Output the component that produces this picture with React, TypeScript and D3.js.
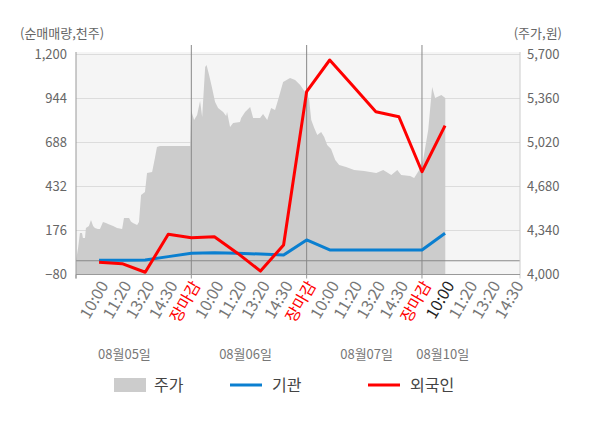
import React from "react";
import * as d3 from "d3";

const xLabels = ["", "10:00", "11:20", "13:20", "14:30", "장마감", "10:00", "11:20", "13:20", "14:30", "장마감", "10:00", "11:20", "13:20", "14:30", "장마감", "10:00", "11:20", "13:20", "14:30"];
const dateLabels = ["08월05일", "08월06일", "08월07일", "08월10일"];
const dateSlots = [2.1, 7.35, 12.6, 15.9];
const leftTicks = [-80, 176, 432, 688, 944, 1200];
const rightTicks = [4000, 4340, 4680, 5020, 5360, 5700];

const foreign = [null, -9, -17, -67, 154, 134, 140, 44, -60, 92, 984, 1168, 1018, 867, 838, 518, 786];
const inst = [null, 3, 3, 5, 24, 43, 47, 43, 39, 33, 121, 63, 63, 63, 63, 63, 160];

const priceSlot = [
  0.0, 0.04, 0.09, 0.17, 0.26, 0.3, 0.39, 0.43, 0.56, 0.65, 0.74, 0.82, 0.95, 1.04, 1.17, 1.3, 1.39, 1.61, 1.78, 2.0, 2.08, 2.3, 2.38, 2.47, 2.65, 2.73, 2.82, 2.99, 3.08, 3.3, 3.43, 3.51, 3.64, 4.95,
  4.99, 5.12, 5.25, 5.38, 5.47, 5.6, 5.66, 5.77, 5.9, 6.03, 6.16, 6.38, 6.51, 6.55, 6.68, 6.81, 7.11, 7.16, 7.33, 7.55, 7.68, 7.98, 8.11, 8.29, 8.46, 8.63, 8.76, 8.98, 9.28, 9.5, 9.72, 9.93,
  9.98, 10.11, 10.2, 10.33, 10.46, 10.63, 10.76, 10.89, 11.06, 11.24, 11.41, 11.71, 12.06, 12.49, 13.02, 13.32, 13.67, 13.93, 14.1, 14.49, 14.66, 14.88,
  15.05, 15.27, 15.4, 15.44, 15.57, 15.84, 16.01,
];
const priceValue = [
  4097, 4151, 4205, 4320, 4320, 4282, 4282, 4359, 4374, 4421, 4374, 4359, 4352, 4352, 4406, 4398, 4390, 4375, 4359, 4352, 4437, 4437, 4410, 4398, 4382, 4406, 4614, 4637, 4784, 4792, 4908, 4985, 4993, 4993,
  5271, 5194, 5232, 5341, 5217, 5603, 5619, 5541, 5441, 5333, 5286, 5256, 5225, 5256, 5140, 5171, 5179, 5209, 5256, 5294, 5209, 5209, 5240, 5194, 5286, 5271, 5348, 5487, 5518, 5503, 5464, 5410,
  5418, 5348, 5194, 5132, 5078, 5101, 5062, 5001, 4970, 4885, 4846, 4831, 4808, 4800, 4784, 4808, 4769, 4808, 4769, 4761, 4746, 4808,
  4885, 5117, 5372, 5449, 5364, 5387, 5364,
];

const W = 600, H = 428;
const L = 76, R = 520, T = 52, B = 274.5;
const font = "'Noto Sans CJK KR', 'Noto Sans', sans-serif";

export default function App() {
  const x = d3.scaleLinear().domain([0, 19.25]).range([L, R]);
  const yL = d3.scaleLinear().domain([-80, 1200]).range([B, 54.5]);
  const yR = d3.scaleLinear().domain([4000, 5700]).range([B, 54.5]);

  const priceData = priceSlot.map((s, i) => [s, priceValue[i]] as [number, number]);
  const area = d3.area<[number, number]>().x((d) => x(d[0])).y0(B).y1((d) => yR(d[1]));
  const line = d3
    .line<number | null>()
    .defined((d) => d !== null)
    .x((_, i) => x(i))
    .y((d) => yL(d as number));

  const dayBounds = [5, 10, 15];

  return (
    <div style={{ position: "absolute", left: 0, top: 0 }}>
      <svg width={W} height={H} style={{ display: "block", fontFamily: font }}>
        <rect x={0} y={0} width={W} height={H} fill="#fff" />
        <rect x={L} y={T} width={R - L} height={B - T} fill="#f5f5f5" />
        {leftTicks.map((t) => (
          <line key={t} x1={L} x2={R} y1={yL(t)} y2={yL(t)} stroke="#dcdcdc" strokeWidth={1} />
        ))}
        <path d={area(priceData) || ""} fill="#cccccc" />
        {dayBounds.map((b) => (
          <line key={b} x1={x(b)} x2={x(b)} y1={45} y2={B} stroke="#888" strokeWidth={1} />
        ))}
        <line x1={L} x2={R} y1={yL(0)} y2={yL(0)} stroke="#888" strokeWidth={1} />
        <line x1={L} x2={L} y1={T} y2={B + 4} stroke="#999" strokeWidth={1} />
        <line x1={R} x2={R} y1={T} y2={B + 4} stroke="#ccc" strokeWidth={1} />
        <line x1={L} x2={R} y1={B} y2={B} stroke="#999" strokeWidth={1} />
        {[0, ...dayBounds].map((b) => (
          <line key={"t" + b} x1={x(b)} x2={x(b)} y1={B} y2={B + 4} stroke="#999" strokeWidth={1} />
        ))}
        <path d={line(inst) || ""} fill="none" stroke="#0a7fd0" strokeWidth={3} strokeLinejoin="round" />
        <path d={line(foreign) || ""} fill="none" stroke="#ff0000" strokeWidth={3} strokeLinejoin="round" />
        {leftTicks.map((t) => (
          <text key={"l" + t} x={67} y={yL(t)} dy="0.35em" textAnchor="end" fontSize={13} fill="#666">
            {d3.format(",")(t)}
          </text>
        ))}
        {rightTicks.map((t) => (
          <text key={"r" + t} x={527} y={yR(t)} dy="0.35em" textAnchor="start" fontSize={13} fill="#666">
            {d3.format(",")(t)}
          </text>
        ))}
        <text x={20} y={33} dy="0.35em" fontSize={13} fill="#666">(순매매량,천주)</text>
        <text x={562} y={33} dy="0.35em" textAnchor="end" fontSize={13} fill="#666">(주가,원)</text>
        {xLabels.map((lab, i) =>
          lab ? (
            <text
              key={"x" + i}
              transform={`translate(${x(i) + 5},${B + 8}) rotate(-60)`}
              textAnchor="end"
              dy="0.35em"
              fontSize={16}
              fill={lab === "장마감" ? "#ff0000" : i === 16 ? "#222" : "#777"}
            >
              {lab}
            </text>
          ) : null
        )}
        {dateLabels.map((d, i) => (
          <text key={d} x={x(dateSlots[i])} y={354} dy="0.35em" textAnchor="middle" fontSize={13} fill="#777">
            {d}
          </text>
        ))}
        <rect x={114} y={378} width={32} height={14} fill="#cccccc" />
        <text x={154} y={385} dy="0.35em" fontSize={16} fill="#444">주가</text>
        <line x1={230} x2={262} y1={385} y2={385} stroke="#0a7fd0" strokeWidth={3} />
        <text x={272} y={385} dy="0.35em" fontSize={16} fill="#444">기관</text>
        <line x1={368} x2={400} y1={385} y2={385} stroke="#ff0000" strokeWidth={3} />
        <text x={410} y={385} dy="0.35em" fontSize={16} fill="#444">외국인</text>
      </svg>
    </div>
  );
}
